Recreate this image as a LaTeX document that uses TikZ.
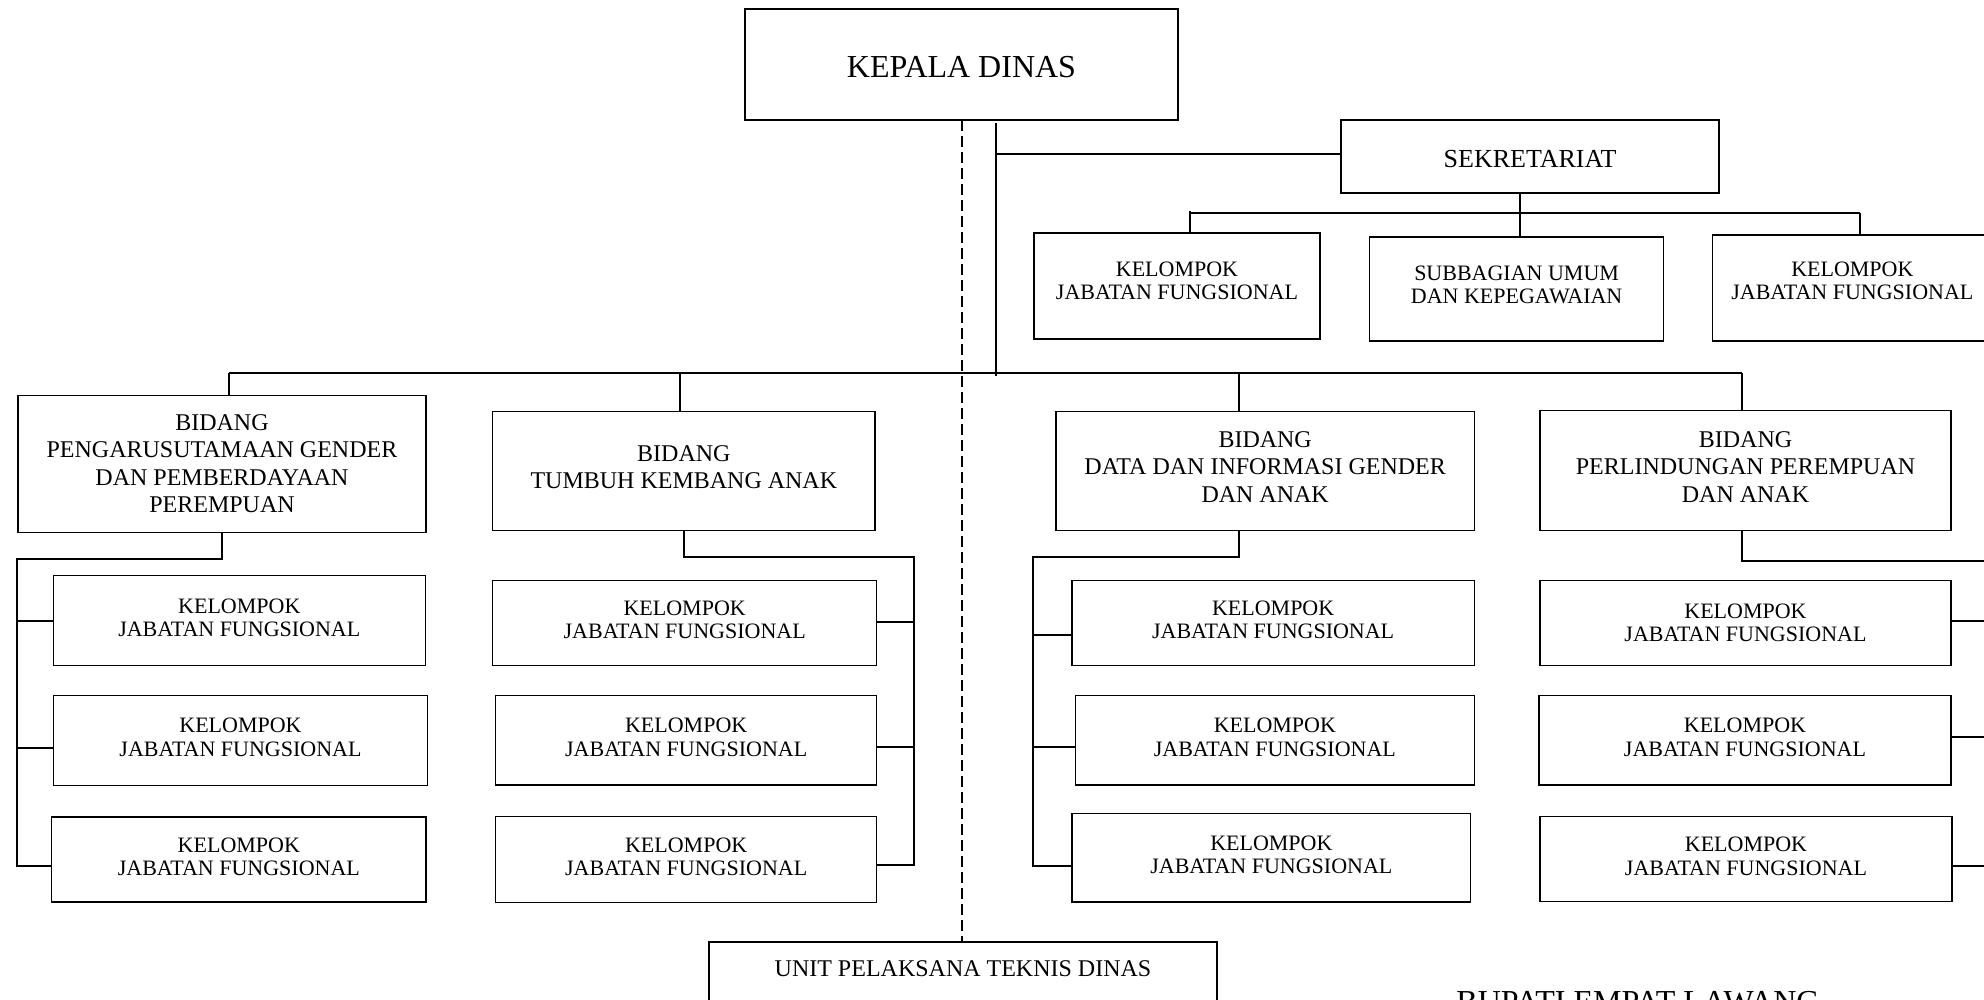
\documentclass[tikz,border=0pt]{standalone}
\usepackage{fontspec}
\setmainfont{Liberation Serif}
\newcommand{\orgbox}[7]{%
  \pgfmathsetmacro{\obw}{(#5-#3)*0.5}%
  \pgfmathsetmacro{\obh}{(#6-#4)*0.5}%
  \pgfmathsetmacro{\obx}{(#3+#5)/2}%
  \pgfmathsetmacro{\oby}{(#4+#6)/2}%
  \node[#1, minimum width=\obw pt, minimum height=\obh pt] (#2) at (\obx,\oby) {#7};%
}
\begin{document}
\begin{tikzpicture}[x=0.5pt,y=-0.5pt,
  ob/.style={draw=black, line width=0.6pt, inner sep=0pt, outer sep=0pt, align=center},
  kjfbox/.style={ob, font=\fontsize{11}{11.7}\selectfont, text depth=3pt},
  bidbox/.style={ob, font=\fontsize{12}{13.7}\selectfont},
  conn/.style={line width=1pt},
  dashline/.style={line width=1pt, dash pattern=on 5.5pt off 2.5pt}]
\useasboundingbox (0,0) rectangle (1984,1000);
\clip (0,0) rectangle (1984,1000);
\fill[white] (0,0) rectangle (1984,1000);

% top
\orgbox{ob, font=\fontsize{16}{18}\selectfont, text height=13pt}{kepala}{745}{9}{1178}{120}{KEPALA DINAS}
\orgbox{ob, font=\fontsize{13}{15}\selectfont, text height=11.5pt}{sek}{1341}{120}{1719}{193}{SEKRETARIAT}
\orgbox{kjfbox, text depth=5pt}{ks1}{1034}{233}{1320}{339}{KELOMPOK\\JABATAN FUNGSIONAL}
\orgbox{kjfbox, text depth=4pt}{sub}{1369.6}{237}{1663.6}{341}{SUBBAGIAN UMUM\\DAN KEPEGAWAIAN}
\orgbox{kjfbox, text depth=7pt}{ks2}{1712.7}{235}{1992}{341}{KELOMPOK\\JABATAN FUNGSIONAL}

% bidang
\orgbox{bidbox}{b1}{18}{395.1}{426}{532.2}{BIDANG\\PENGARUSUTAMAAN GENDER\\DAN PEMBERDAYAAN\\PEREMPUAN}
\orgbox{bidbox, text depth=4pt}{b2}{492.7}{411.1}{875}{530.8}{BIDANG\\TUMBUH KEMBANG ANAK}
\orgbox{bidbox, text depth=4pt}{b3}{1056}{411.1}{1474.3}{530.8}{BIDANG\\DATA DAN INFORMASI GENDER\\DAN ANAK}
\orgbox{bidbox, text depth=4pt}{b4}{1540}{410.7}{1951}{530.7}{BIDANG\\PERLINDUNGAN PEREMPUAN\\DAN ANAK}

% kelompok jabatan fungsional
\orgbox{kjfbox}{c1}{53.3}{575.6}{425.3}{665.5}{KELOMPOK\\JABATAN FUNGSIONAL}
\orgbox{kjfbox}{c2}{53.3}{695.4}{427.7}{785.3}{KELOMPOK\\JABATAN FUNGSIONAL}
\orgbox{kjfbox}{c3}{51.7}{817}{426}{902}{KELOMPOK\\JABATAN FUNGSIONAL}
\orgbox{kjfbox}{d1}{492.7}{580.4}{876.7}{665.6}{KELOMPOK\\JABATAN FUNGSIONAL}
\orgbox{kjfbox}{d2}{495.7}{695.4}{876.7}{785}{KELOMPOK\\JABATAN FUNGSIONAL}
\orgbox{kjfbox}{d3}{495.7}{816.7}{876.7}{902.2}{KELOMPOK\\JABATAN FUNGSIONAL}
\orgbox{kjfbox}{e1}{1072}{580.4}{1474.3}{665.6}{KELOMPOK\\JABATAN FUNGSIONAL}
\orgbox{kjfbox}{e2}{1075.4}{695.4}{1474.3}{785}{KELOMPOK\\JABATAN FUNGSIONAL}
\orgbox{kjfbox}{e3}{1072}{813.7}{1470.7}{902}{KELOMPOK\\JABATAN FUNGSIONAL}
\orgbox{kjfbox, text depth=0.5pt}{f1}{1540}{580.7}{1951}{665.7}{KELOMPOK\\JABATAN FUNGSIONAL}
\orgbox{kjfbox}{f2}{1539}{695.3}{1951}{785}{KELOMPOK\\JABATAN FUNGSIONAL}
\orgbox{kjfbox}{f3}{1540}{816.7}{1952}{901.7}{KELOMPOK\\JABATAN FUNGSIONAL}

% UPTD
\node[draw=black, line width=0.6pt, anchor=north, outer sep=0pt, inner xsep=0pt, inner ysep=9.3pt,
      minimum width=254pt, text depth=40pt, font=\fontsize{12}{14}\selectfont]
      (uptd) at (963,942) {UNIT PELAKSANA TEKNIS DINAS};
\draw[line width=1.4pt] (uptd.north west) -- (uptd.north east);

\node[anchor=base, font=\fontsize{16}{18}\selectfont, inner sep=0pt] (bupati) at (1638,1012) {BUPATI EMPAT LAWANG};

% connectors
\coordinate (t0) at (996,123);
\coordinate (t1) at (996,376);
\coordinate (ts) at (996,154);
\draw[conn] (t0) -- (t1);
\draw[conn] (ts) -- (ts -| sek.west);

\coordinate (sm) at (1519.5,213.3);
\coordinate (sl) at (1190,211.5);
\coordinate (sr) at (1860,213.3);
\draw[conn] (sm |- sek.south) -- (sm);
\draw[conn] (sl |- sm) -- (sr);
\draw[conn] (sl) -- (sl |- ks1.north);
\draw[conn] (sm) -- (sm |- sub.north);
\draw[conn] (sr) -- (sr |- ks2.north);

\coordinate (bl) at (229,373);
\coordinate (br) at (1742,373);
\coordinate (l2) at (679.5,373);
\coordinate (l3) at (1238.6,373);
\draw[conn] (bl) -- (br);
\draw[conn] (bl) -- (bl |- b1.north);
\draw[conn] (l2) -- (l2 |- b2.north);
\draw[conn] (l3) -- (l3 |- b3.north);
\draw[conn] (br) -- (br |- b4.north);

% group 1
\coordinate (g1a) at (16.5,558.7);
\coordinate (g1b) at (16.5,621.4);
\coordinate (g1c) at (16.5,747.8);
\coordinate (g1d) at (16.5,866);
\draw[conn] (b1.south) -- (b1.south |- g1a) -- (g1a) -- (g1d) -- (g1d -| c3.west);
\draw[conn] (g1b) -- (g1b -| c1.west);
\draw[conn] (g1c) -- (g1c -| c2.west);

% group 2
\coordinate (g2a) at (914,556.8);
\coordinate (g2b) at (914,621.7);
\coordinate (g2c) at (914,747.4);
\coordinate (g2d) at (914,865.4);
\draw[conn] (b2.south) -- (b2.south |- g2a) -- (g2a) -- (g2d) -- (g2d -| d3.east);
\draw[conn] (g2b) -- (g2b -| d1.east);
\draw[conn] (g2c) -- (g2c -| d2.east);

% group 3
\coordinate (g3s) at (1238.6,556.8);
\coordinate (g3a) at (1033.2,556.8);
\coordinate (g3b) at (1033.2,634.5);
\coordinate (g3c) at (1033.2,747.4);
\coordinate (g3d) at (1033.2,866);
\draw[conn] (g3s |- b3.south) -- (g3s) -- (g3a) -- (g3d) -- (g3d -| e3.west);
\draw[conn] (g3b) -- (g3b -| e1.west);
\draw[conn] (g3c) -- (g3c -| e2.west);

% group 4
\coordinate (g4s) at (1741.7,561);
\coordinate (g4a) at (1995,561);
\coordinate (g4b) at (1995,621);
\coordinate (g4c) at (1995,737.3);
\coordinate (g4d) at (1995,865.7);
\draw[conn] (g4s |- b4.south) -- (g4s) -- (g4a);
\draw[conn] (g4b -| f1.east) -- (g4b);
\draw[conn] (g4c -| f2.east) -- (g4c);
\draw[conn] (g4d -| f3.east) -- (g4d);

% dashed line
\draw[dashline] (kepala.south) -- (kepala.south |- uptd.north);
\end{tikzpicture}
\end{document}
